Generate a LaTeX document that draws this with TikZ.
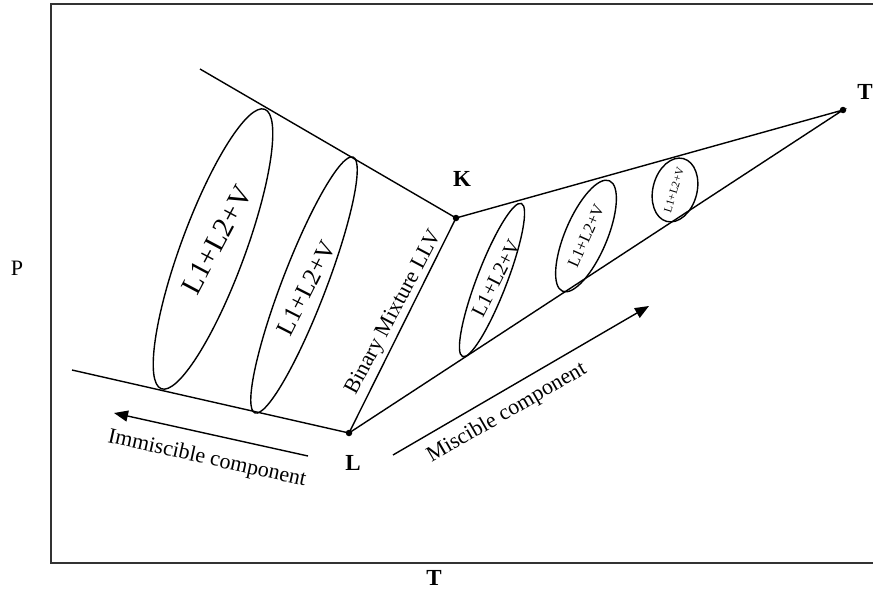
\documentclass[tikz,border=0pt]{standalone}
\usepackage{fontspec}
\setmainfont{Liberation Serif}
\usetikzlibrary{arrows.meta}
\begin{document}
\begin{tikzpicture}[x=1pt,y=-1pt,
  ln/.style={line width=1.4pt},
  oval/.style={line width=1.4pt},
  lbl/.style={font=\fontsize{22}{26}\selectfont, inner sep=0pt},
  blbl/.style={font=\fontsize{23}{27}\selectfont\bfseries, inner sep=0pt},
  ovtext/.style={inner sep=0pt},
  arr/.style={line width=1.4pt, -{Triangle[length=14pt,width=11pt]}},
  dotm/.style={circle, fill=black, inner sep=0pt, minimum size=6.5pt},
  frame/.style={line width=2.2pt, draw=black!80}]
\useasboundingbox (0,0) rectangle (873,592);
% frame
\coordinate (F1) at (873,4);
\coordinate (F2) at (51,4);
\coordinate (F3) at (51,563);
\coordinate (F4) at (873,563);
\draw[frame] (F1) -- (F2) -- (F3) -- (F4);
% key points
\coordinate (K) at (456,218);
\coordinate (L) at (349,433);
\coordinate (T) at (843,110);
\coordinate (A) at (200,69);
\coordinate (B) at (72,370);
\draw[ln] (A) -- (K) -- (T) -- (L) -- (B);
\draw[ln] (K) -- (L);
\node[dotm] (Kd) at (K) {};
\node[dotm] (Ld) at (L) {};
\node[dotm] (Td) at (T) {};
% ellipses
\draw[oval, rotate around={69.7:(213,249)}] (213,249) ellipse (149pt and 32pt);
\draw[oval, rotate around={69:(304,285)}] (304,285) ellipse (137pt and 22pt);
\draw[oval, rotate around={69:(492,280)}] (492,280) ellipse (82pt and 15pt);
\draw[oval, rotate around={67:(586,236)}] (586,236) ellipse (60pt and 21pt);
\draw[oval, rotate around={75:(675,190)}] (675,190) ellipse (32.5pt and 22pt);
% ellipse texts
\node[ovtext, font=\fontsize{29}{30}\selectfont, rotate=62] (t1) at (217,240) {L1+L2+V};
\node[ovtext, font=\fontsize{25}{26}\selectfont, rotate=63] (t2) at (306,288) {L1+L2+V};
\node[ovtext, font=\fontsize{20.5}{21}\selectfont, rotate=63] (t3) at (496,278) {L1+L2+V};
\node[ovtext, font=\fontsize{16.5}{17}\selectfont, rotate=66] (t4) at (586,236) {L1+L2+V};
\node[ovtext, font=\fontsize{11.3}{12}\selectfont, rotate=73] (t5) at (674,190) {L1+L2+V};
% labels
\node[lbl, rotate=62] (bm) at (394,313) {Binary Mixture LLV};
\node[lbl] (P) at (17,268) {P};
\node[blbl] (Tx) at (434,578) {T};
\node[blbl] (Kl) at (462,179) {K};
\node[blbl] (Ll) at (353,463) {L};
\node[blbl] (Tl) at (865,92) {T};
% arrows
\coordinate (I1) at (308,456);
\coordinate (I2) at (114,413);
\draw[arr] (I1) -- (I2);
\node[lbl, rotate=-12.5] (imm) at (207,459) {Immiscible component};
\coordinate (M1) at (393,455);
\coordinate (M2) at (649,306);
\draw[arr] (M1) -- (M2);
\node[lbl, rotate=30] (mis) at (507,413) {Miscible component};
\end{tikzpicture}
\end{document}
